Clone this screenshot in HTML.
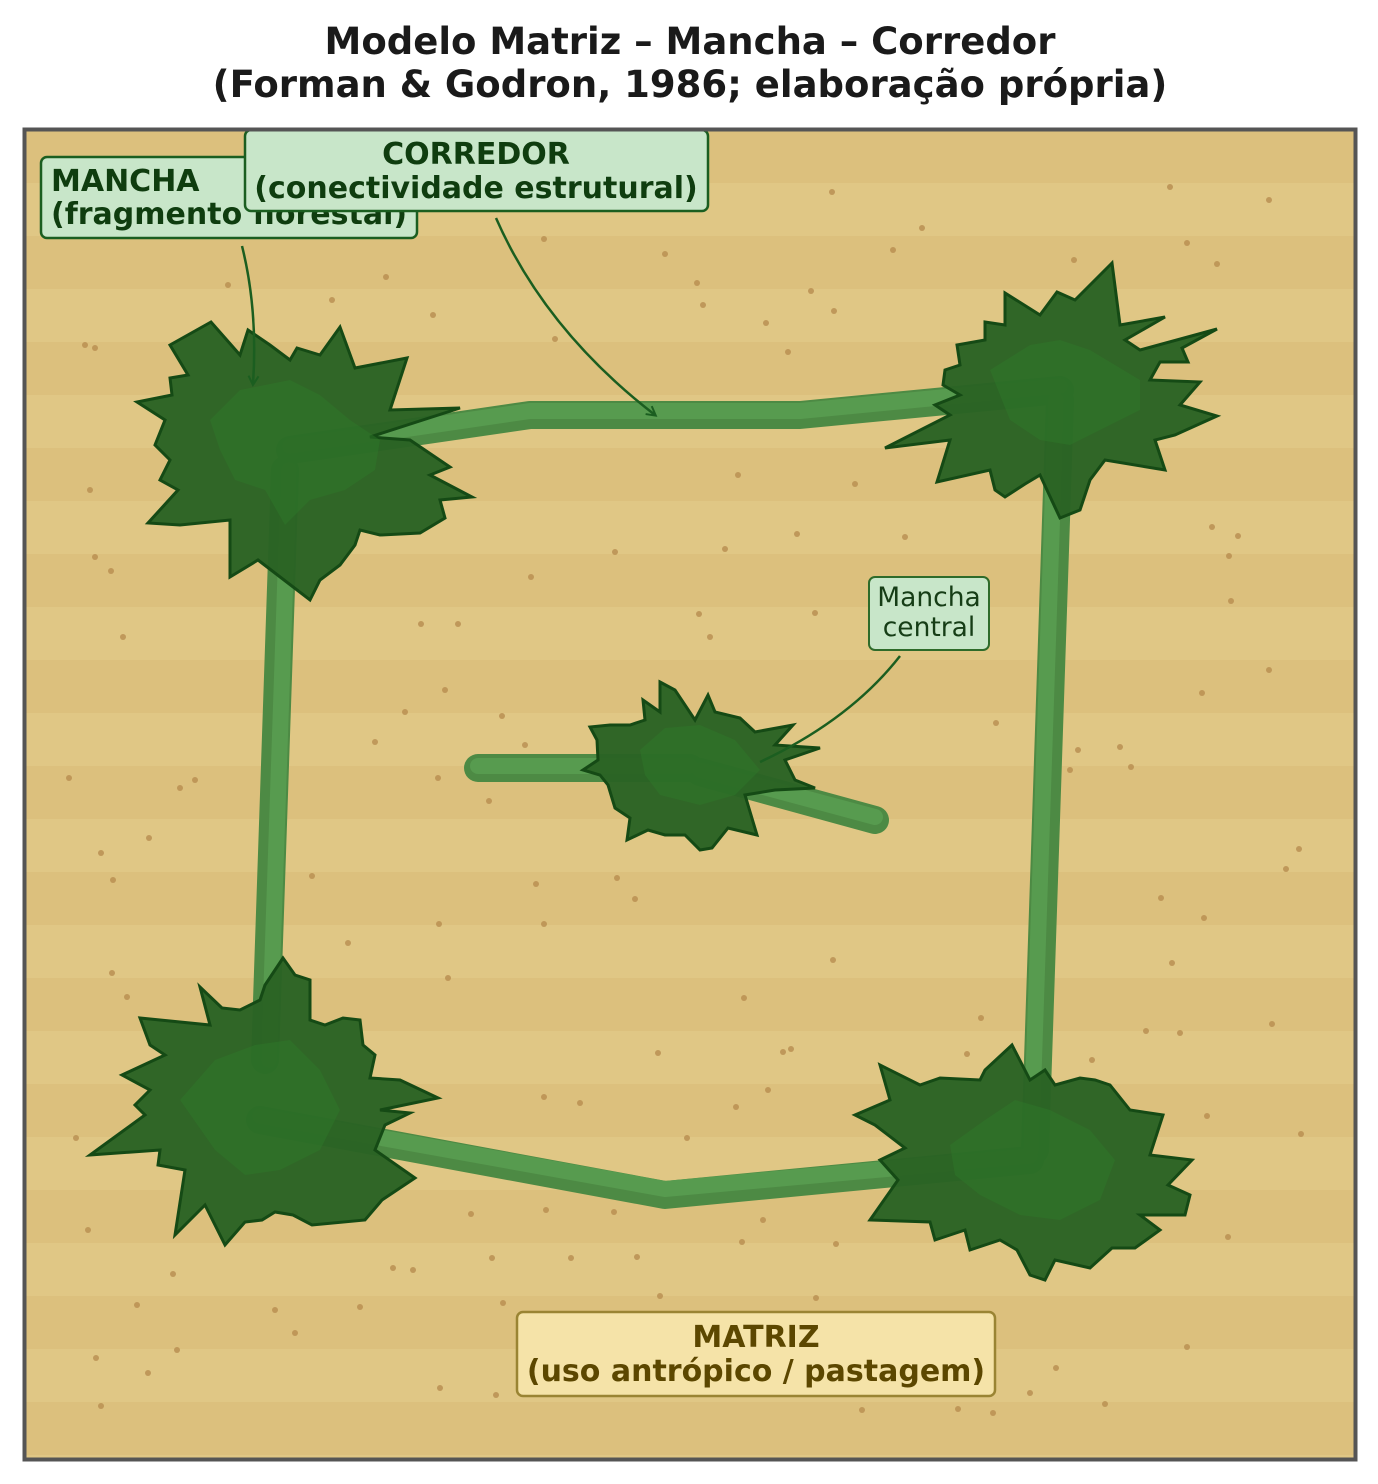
<!DOCTYPE html>
<html><head><meta charset="utf-8"><style>
html,body{margin:0;padding:0;background:#fff;}
svg{display:block;font-family:"DejaVu Sans","Liberation Sans",sans-serif;}
</style></head><body>
<svg width="1378" height="1484" viewBox="0 0 1378 1484" xmlns="http://www.w3.org/2000/svg">
<defs>
<pattern id="st" x="0" y="130" width="10" height="106" patternUnits="userSpaceOnUse">
<rect width="10" height="53" fill="#dcc07d"/><rect y="53" width="10" height="53" fill="#e0c785"/>
</pattern>
<marker id="ah" markerWidth="12" markerHeight="12" refX="9" refY="6" orient="auto" markerUnits="userSpaceOnUse">
<path d="M1,1 L10,6 L1,11" fill="none" stroke="#1b5e20" stroke-width="2"/>
</marker>
</defs>
<text x="690" y="54" text-anchor="middle" font-size="37" font-weight="bold" fill="#1a1a1a">Modelo Matriz – Mancha – Corredor</text>
<text x="690" y="97" text-anchor="middle" font-size="37" font-weight="bold" fill="#1a1a1a">(Forman &amp; Godron, 1986; elaboração própria)</text>
<rect x="25" y="130" width="1330" height="1329" fill="url(#st)"/>
<g fill="#b88d50" opacity="0.8">
<circle cx="85" cy="345" r="3"/><circle cx="95" cy="348" r="3"/><circle cx="90" cy="490" r="3"/><circle cx="95" cy="557" r="3"/><circle cx="111" cy="571" r="3"/><circle cx="123" cy="637" r="3"/><circle cx="69" cy="778" r="3"/><circle cx="101" cy="853" r="3"/><circle cx="113" cy="880" r="3"/><circle cx="149" cy="838" r="3"/><circle cx="180" cy="788" r="3"/><circle cx="195" cy="780" r="3"/><circle cx="112" cy="973" r="3"/><circle cx="127" cy="997" r="3"/><circle cx="76" cy="1138" r="3"/><circle cx="88" cy="1230" r="3"/><circle cx="137" cy="1305" r="3"/><circle cx="96" cy="1358" r="3"/><circle cx="101" cy="1406" r="3"/><circle cx="148" cy="1373" r="3"/><circle cx="177" cy="1350" r="3"/><circle cx="173" cy="1274" r="3"/><circle cx="275" cy="1310" r="3"/><circle cx="295" cy="1333" r="3"/><circle cx="360" cy="1307" r="3"/><circle cx="413" cy="1270" r="3"/><circle cx="393" cy="1268" r="3"/><circle cx="440" cy="1388" r="3"/><circle cx="496" cy="1395" r="3"/><circle cx="503" cy="1303" r="3"/><circle cx="471" cy="1214" r="3"/><circle cx="492" cy="1258" r="3"/><circle cx="546" cy="1210" r="3"/><circle cx="571" cy="1258" r="3"/><circle cx="614" cy="1212" r="3"/><circle cx="637" cy="1257" r="3"/><circle cx="660" cy="1296" r="3"/><circle cx="742" cy="1242" r="3"/><circle cx="763" cy="1220" r="3"/><circle cx="836" cy="1244" r="3"/><circle cx="816" cy="1298" r="3"/><circle cx="862" cy="1410" r="3"/><circle cx="958" cy="1409" r="3"/><circle cx="993" cy="1413" r="3"/><circle cx="1030" cy="1393" r="3"/><circle cx="1056" cy="1368" r="3"/><circle cx="1105" cy="1404" r="3"/><circle cx="1187" cy="1347" r="3"/><circle cx="1228" cy="1237" r="3"/><circle cx="1301" cy="1134" r="3"/><circle cx="1272" cy="1024" r="3"/><circle cx="1207" cy="1116" r="3"/><circle cx="1180" cy="1033" r="3"/><circle cx="1146" cy="1031" r="3"/><circle cx="1172" cy="963" r="3"/><circle cx="1161" cy="898" r="3"/><circle cx="1204" cy="918" r="3"/><circle cx="1286" cy="869" r="3"/><circle cx="1299" cy="849" r="3"/><circle cx="1131" cy="767" r="3"/><circle cx="1120" cy="747" r="3"/><circle cx="1078" cy="750" r="3"/><circle cx="1070" cy="770" r="3"/><circle cx="1202" cy="693" r="3"/><circle cx="1269" cy="670" r="3"/><circle cx="1231" cy="601" r="3"/><circle cx="1229" cy="556" r="3"/><circle cx="1238" cy="536" r="3"/><circle cx="1212" cy="527" r="3"/><circle cx="1217" cy="264" r="3"/><circle cx="1187" cy="243" r="3"/><circle cx="1269" cy="200" r="3"/><circle cx="1170" cy="187" r="3"/><circle cx="1074" cy="260" r="3"/><circle cx="922" cy="228" r="3"/><circle cx="893" cy="250" r="3"/><circle cx="832" cy="192" r="3"/><circle cx="811" cy="291" r="3"/><circle cx="834" cy="311" r="3"/><circle cx="766" cy="323" r="3"/><circle cx="788" cy="352" r="3"/><circle cx="703" cy="305" r="3"/><circle cx="697" cy="283" r="3"/><circle cx="665" cy="254" r="3"/><circle cx="544" cy="239" r="3"/><circle cx="555" cy="339" r="3"/><circle cx="433" cy="315" r="3"/><circle cx="386" cy="277" r="3"/><circle cx="332" cy="300" r="3"/><circle cx="228" cy="285" r="3"/><circle cx="531" cy="577" r="3"/><circle cx="615" cy="552" r="3"/><circle cx="725" cy="549" r="3"/><circle cx="699" cy="614" r="3"/><circle cx="710" cy="637" r="3"/><circle cx="815" cy="613" r="3"/><circle cx="421" cy="624" r="3"/><circle cx="458" cy="624" r="3"/><circle cx="445" cy="690" r="3"/><circle cx="405" cy="712" r="3"/><circle cx="375" cy="742" r="3"/><circle cx="438" cy="778" r="3"/><circle cx="489" cy="801" r="3"/><circle cx="525" cy="745" r="3"/><circle cx="502" cy="716" r="3"/><circle cx="617" cy="878" r="3"/><circle cx="635" cy="899" r="3"/><circle cx="536" cy="884" r="3"/><circle cx="544" cy="924" r="3"/><circle cx="439" cy="924" r="3"/><circle cx="448" cy="978" r="3"/><circle cx="348" cy="943" r="3"/><circle cx="312" cy="876" r="3"/><circle cx="658" cy="1053" r="3"/><circle cx="744" cy="998" r="3"/><circle cx="783" cy="1052" r="3"/><circle cx="791" cy="1049" r="3"/><circle cx="833" cy="960" r="3"/><circle cx="768" cy="1090" r="3"/><circle cx="736" cy="1107" r="3"/><circle cx="580" cy="1103" r="3"/><circle cx="544" cy="1097" r="3"/><circle cx="687" cy="1138" r="3"/><circle cx="905" cy="537" r="3"/><circle cx="855" cy="484" r="3"/><circle cx="738" cy="475" r="3"/><circle cx="797" cy="534" r="3"/><circle cx="981" cy="1018" r="3"/><circle cx="996" cy="723" r="3"/><circle cx="1092" cy="1060" r="3"/><circle cx="967" cy="1054" r="3"/>
</g>
<g fill="none" stroke-linecap="round" stroke-linejoin="round">
<g stroke="#4d8a44" stroke-width="28">
<polyline points="290,450 530,415 800,415 1060,390"/>
<polyline points="285,470 265,1060"/>
<polyline points="1060,400 1035,1150"/>
<polyline points="260,1120 665,1195 1030,1160"/>
<polyline points="478,768 690,768"/>
<polyline points="700,772 875,820"/>
</g>
<g stroke="#579b4f" stroke-width="16">
<polyline points="290,446 530,411 800,411 1060,386"/>
<polyline points="289,470 269,1060"/>
<polyline points="1056,400 1031,1150"/>
<polyline points="260,1116 665,1189 1030,1156"/>
<polyline points="478,766 690,766"/>
<polyline points="700,770 875,817"/>
</g>
</g>
<g fill="#2a6324" fill-opacity="0.97" stroke="#154a15" stroke-width="3" stroke-linejoin="miter">
<polygon points="211,322 170,345 188,375 170,378 172,395 137,402 165,420 155,445 170,460 160,480 178,490 148,523 180,525 230,520 230,577 258,560 310,600 320,580 340,565 355,545 360,530 380,535 420,533 445,518 440,500 472,497 430,475 450,467 410,440 370,437 460,408 390,410 407,358 355,368 340,327 320,355 297,348 290,360 270,345 248,330 240,355"/>
<polygon points="1112,263 1075,300 1057,292 1040,315 1005,293 1005,325 985,322 985,340 957,345 960,365 945,370 943,385 960,395 935,405 950,415 885,448 950,440 937,482 990,470 995,490 1005,497 1025,484 1040,475 1060,518 1080,510 1090,480 1105,460 1165,470 1155,440 1175,435 1217,416 1180,405 1200,382 1150,380 1160,362 1188,362 1182,348 1217,329 1140,350 1125,340 1165,317 1120,325"/>
<polygon points="660,682 675,690 695,720 708,695 715,712 740,718 755,732 793,725 775,745 820,748 785,760 795,780 815,788 775,790 745,795 757,835 728,828 712,848 700,850 685,835 665,835 648,830 627,840 630,818 615,808 608,785 600,775 583,770 598,760 597,740 590,727 610,725 630,725 645,720 643,700 660,712"/>
<polygon points="283,958 265,985 260,1000 240,1010 222,1008 200,987 210,1025 140,1018 150,1045 165,1055 122,1075 150,1090 135,1105 145,1115 90,1155 160,1150 158,1165 185,1170 175,1235 205,1205 225,1245 245,1222 262,1220 275,1212 293,1215 312,1225 365,1220 382,1200 415,1178 375,1150 385,1125 410,1113 380,1110 438,1098 400,1080 370,1078 375,1055 363,1045 360,1020 343,1018 325,1025 310,1020 310,980 295,975"/>
<polygon points="1012,1045 985,1070 980,1080 940,1078 920,1085 880,1065 890,1100 855,1115 875,1125 905,1148 880,1160 898,1180 870,1220 930,1222 935,1240 965,1230 970,1250 1000,1240 1017,1250 1030,1275 1045,1280 1055,1260 1090,1268 1112,1248 1135,1248 1160,1230 1140,1215 1185,1215 1190,1195 1168,1185 1192,1160 1150,1155 1163,1115 1130,1110 1110,1085 1095,1080 1080,1078 1055,1085 1045,1070 1030,1080"/>
</g>
<g fill="#2e7a2a" opacity="0.45">
<polygon points="210,420 240,390 265,385 290,380 320,395 350,420 380,440 375,470 345,490 310,500 285,525 265,490 235,480 220,450"/>
<polygon points="990,370 1030,345 1060,340 1090,350 1140,380 1140,410 1100,430 1070,445 1040,440 1010,420"/>
<polygon points="640,750 665,728 700,725 735,740 760,770 735,795 700,805 660,795 645,775"/>
<polygon points="180,1100 215,1060 255,1045 290,1040 320,1070 340,1110 320,1150 280,1170 245,1175 215,1150"/>
<polygon points="950,1145 985,1120 1015,1100 1050,1110 1090,1130 1115,1160 1100,1200 1060,1220 1020,1215 980,1195 955,1175"/>
</g>
<g fill="none" stroke="#1b5e20" stroke-width="2.5">
<path d="M242,246 Q258,310 253,384" marker-end="url(#ah)"/>
<path d="M496,218 Q545,330 655,415" marker-end="url(#ah)"/>
<path d="M900,656 Q850,720 760,762"/>
</g>
<g font-weight="bold" font-size="30" fill="#0f3d0f">
<rect x="41" y="157" width="376" height="81" rx="6" fill="#c8e6c9" stroke="#1b5e20" stroke-width="2.5"/>
<text x="51" y="191">MANCHA</text>
<text x="51" y="224">(fragmento florestal)</text>
<rect x="245" y="130" width="463" height="81" rx="6" fill="#c8e6c9" stroke="#1b5e20" stroke-width="2.5"/>
<text x="476" y="164" text-anchor="middle">CORREDOR</text>
<text x="476" y="198" text-anchor="middle">(conectividade estrutural)</text>
</g>
<rect x="869" y="577" width="120" height="73" rx="6" fill="#c8e6c9" stroke="#2e6b2a" stroke-width="2"/>
<text x="929" y="606" text-anchor="middle" font-size="26.5" fill="#163d16">Mancha</text>
<text x="929" y="636" text-anchor="middle" font-size="26.5" fill="#163d16">central</text>
<rect x="517" y="1312" width="478" height="84" rx="6" fill="#f5e3a8" stroke="#9a8433" stroke-width="2.5"/>
<g font-weight="bold" font-size="30" fill="#5c4700" text-anchor="middle">
<text x="756" y="1347">MATRIZ</text>
<text x="756" y="1381">(uso antrópico / pastagem)</text>
</g>
<rect x="24.5" y="129.5" width="1331" height="1330" fill="none" stroke="#555" stroke-width="4"/>
</svg>
</body></html>
